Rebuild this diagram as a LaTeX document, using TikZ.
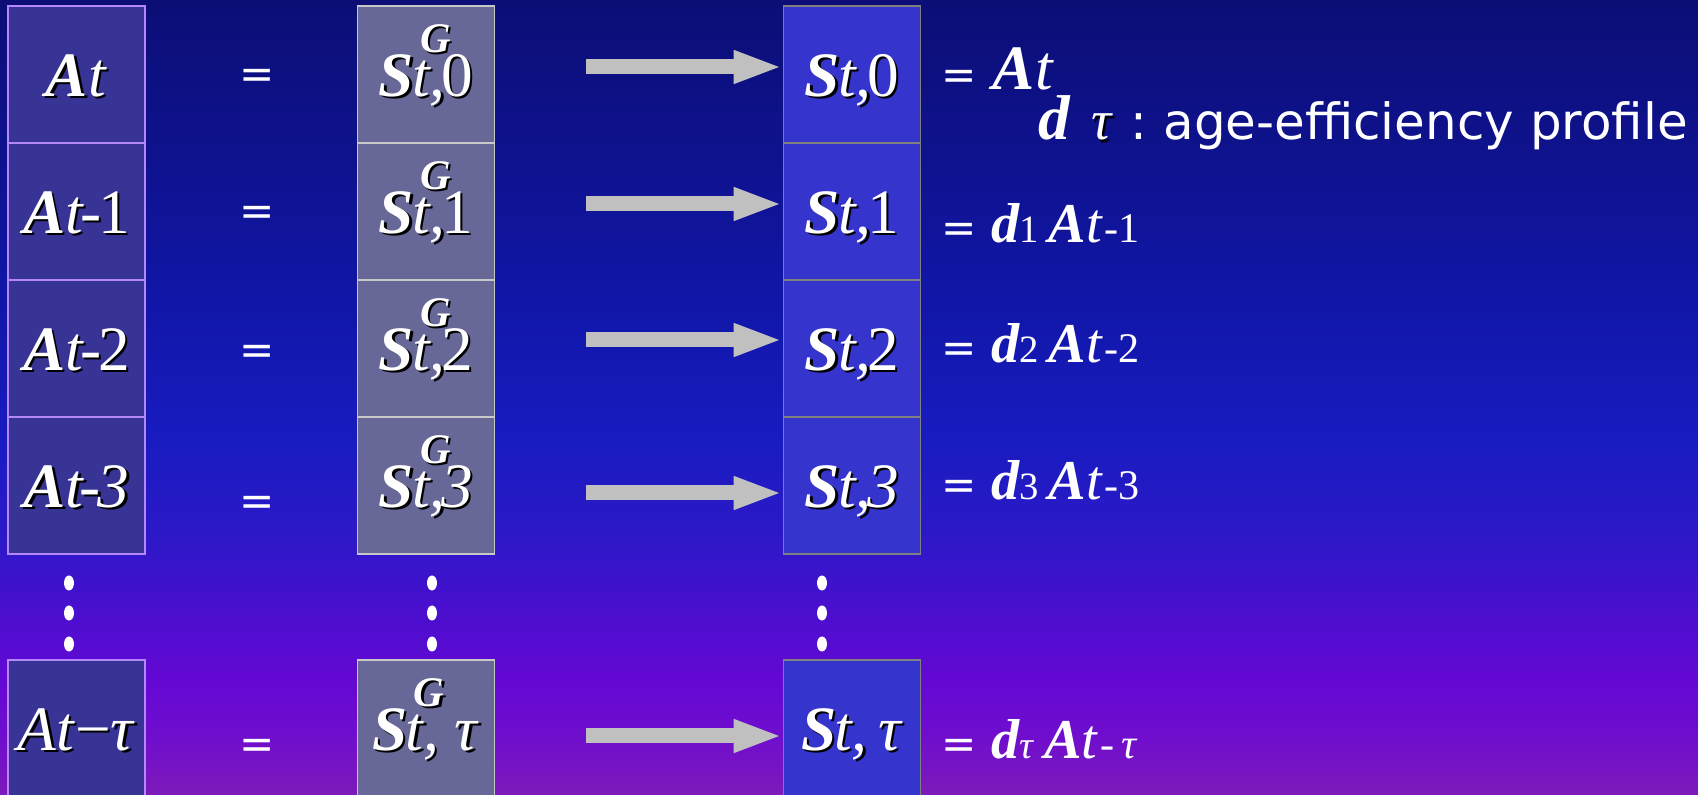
\documentclass[tikz,border=0pt]{standalone}
\usepackage{fontspec}
\setmainfont{Liberation Serif}
\setsansfont{DejaVu Sans}
\usetikzlibrary{arrows.meta,calc}

\definecolor{bga}{RGB}{12,14,118}
\definecolor{bgb}{RGB}{14,18,140}
\definecolor{bgc}{RGB}{17,22,168}
\definecolor{bgd}{RGB}{24,28,192}
\definecolor{bge}{RGB}{46,24,200}
\definecolor{bgf}{RGB}{70,16,206}
\definecolor{bgg}{RGB}{100,8,212}
\definecolor{bgh}{RGB}{112,14,205}
\definecolor{bgi}{RGB}{125,26,185}
\definecolor{afill}{RGB}{55,52,150}
\definecolor{aline}{RGB}{180,135,250}
\definecolor{gfill}{RGB}{104,104,152}
\definecolor{gline}{RGB}{200,200,200}
\definecolor{sfill}{RGB}{53,53,205}
\definecolor{sline}{RGB}{128,128,128}
\definecolor{arrgray}{RGB}{192,192,192}

\pgfdeclareverticalshading{slidebg}{100bp}{color(0bp)=(bgi); color(25bp)=(bgi);
  color(28.5bp)=(bgh); color(32.2bp)=(bgg); color(37.3bp)=(bgf); color(41bp)=(bge);
  color(47.3bp)=(bgd); color(56.1bp)=(bgc); color(65.6bp)=(bgb); color(75bp)=(bga);
  color(100bp)=(bga)}

\newcommand\bi[1]{\textbf{\textit{#1}}}
\newcommand\shd[1]{\leavevmode\rlap{\kern0.7pt\raisebox{-0.7pt}{\color{black}#1}}#1}
\newcommand\sg{\bi{S}\rlap{\smash{\raisebox{0.44cm}{\kern0.06cm\fontsize{12}{12}\selectfont\bi{G}}}}\kern-0.02cm}
\newcommand\sub[1]{{\fontsize{11}{11}\selectfont #1}}
\newcommand\tail[1]{{\fontsize{12}{12}\selectfont\kern0.02cm #1}}
\newcommand\eqs{{\sffamily\fontsize{12}{12}\selectfont =}}
\newcommand\hy{\kern-0.04cm-\kern-0.03cm}
\newcommand\cm{,\kern-0.04cm}

\begin{document}
\begin{tikzpicture}[
    font=\fontsize{18}{20}\selectfont, text=white,
    cell/.style={minimum width=1.37cm, minimum height=1.37cm, inner sep=0pt,
                 text height=0.44cm, text depth=0pt, line width=0.5pt},
    acell/.style={cell, draw=aline, fill=afill},
    gcell/.style={cell, draw=gline, fill=gfill},
    scell/.style={cell, draw=sline, fill=sfill},
    eqsign/.style={anchor=base, inner sep=0pt},
    rhs/.style={anchor=base west, inner sep=0pt, font=\fontsize{16}{18}\selectfont},
    fat/.style={line width=0.15cm, draw=arrgray, -{Triangle[length=0.49cm, width=0.30cm]}},
    vdot/.style={fill=white}]

    \useasboundingbox (0,0) rectangle (16.98,-7.95);
    \shade[shading=slidebg] (0,0) rectangle (16.98,-7.95);

    % left column
    \node[acell] (A0) at (0.765,-0.745) {\shd{\bi{A}\textit{t}}};
    \node[acell] (A1) at (0.765,-2.115) {\shd{\bi{A}\textit{t}\hy 1}};
    \node[acell] (A2) at (0.765,-3.485) {\shd{\bi{A}\textit{t}\hy 2}};
    \node[acell] (A3) at (0.765,-4.855) {\shd{\bi{A}\textit{t\hy 3}}};
    \node[acell] (A4) at (0.765,-7.285) {\shd{\textit{At}−\textit{τ}}};

    % middle column
    \node[gcell] (G0) at (4.26,-0.745) {\shd{\sg\textit{t\cm}0}};
    \node[gcell] (G1) at (4.26,-2.115) {\shd{\sg\textit{t\cm}1}};
    \node[gcell] (G2) at (4.26,-3.485) {\shd{\sg\textit{t\cm}2}};
    \node[gcell] (G3) at (4.26,-4.855) {\shd{\sg\textit{t\cm 3}}};
    \node[gcell] (G4) at (4.26,-7.285) {\shd{\sg\textit{t,}\ \textit{τ}}};

    % right column
    \node[scell] (S0) at (8.52,-0.745) {\shd{\bi{S}\kern-0.02cm\textit{t\cm}0}};
    \node[scell] (S1) at (8.52,-2.115) {\shd{\bi{S}\kern-0.02cm\textit{t\cm}1}};
    \node[scell] (S2) at (8.52,-3.485) {\shd{\bi{S}\kern-0.02cm\textit{t\cm}2}};
    \node[scell] (S3) at (8.52,-4.855) {\shd{\bi{S}\kern-0.02cm\textit{t\cm 3}}};
    \node[scell] (S4) at (8.52,-7.285) {\shd{\bi{S}\kern-0.02cm\textit{t,}\,\textit{τ}}};

    % equal signs
    \node[eqsign] (eq0) at (2.57,-0.89) {\eqs};
    \node[eqsign] (eq1) at (2.57,-2.26) {\eqs};
    \node[eqsign] (eq2) at (2.57,-3.65) {\eqs};
    \node[eqsign] (eq3) at (2.57,-5.16) {\eqs};
    \node[eqsign] (eq4) at (2.57,-7.58) {\eqs};

    % right hand sides
    \node[rhs, font=\fontsize{18}{20}\selectfont] (lbl0) at (9.41,-0.90) {\eqs\ \bi{A}\textit{t}};
    \node[rhs, font=\fontsize{18}{20}\selectfont] (lbld) at (10.38,-1.40)
        {\bi{d}\hspace{0.2cm}{\fontsize{16}{16}\selectfont\shd{\textit{τ}}}\hspace{0.18cm}{\sffamily\fontsize{14.2}{15}\selectfont :\ age-efficiency profile}};
    \node[rhs] (lbl1) at (9.41,-2.43) {\eqs\ \bi{d}\sub{1}\,\bi{A}\textit{t}\tail{-1}};
    \node[rhs] (lbl2) at (9.41,-3.63) {\eqs\ \bi{d}\sub{2}\,\bi{A}\textit{t}\tail{-2}};
    \node[rhs] (lbl3) at (9.41,-5.00) {\eqs\ \bi{d}\sub{3}\,\bi{A}\textit{t}\tail{-3}};
    \node[rhs] (lbl4) at (9.41,-7.58) {\eqs\ \bi{d}\sub{\textit{τ}}\,\bi{A}\textit{t}\tail{-\,\textit{τ}}};

    % arrows
    \coordinate (a0) at (5.86,-0.67);
    \coordinate (a1) at (5.86,-2.04);
    \coordinate (a2) at (5.86,-3.40);
    \coordinate (a3) at (5.86,-4.93);
    \coordinate (a4) at (5.86,-7.36);
    \draw[fat] (a0) -- (a0 -| S0.west);
    \draw[fat] (a1) -- (a1 -| S1.west);
    \draw[fat] (a2) -- (a2 -| S2.west);
    \draw[fat] (a3) -- (a3 -| S3.west);
    \draw[fat] (a4) -- (a4 -| S4.west);

    % vertical dots
    \fill[vdot] (0.69,-5.83) ellipse [x radius=0.05cm, y radius=0.075cm]
                (0.69,-6.13) ellipse [x radius=0.05cm, y radius=0.075cm]
                (0.69,-6.44) ellipse [x radius=0.05cm, y radius=0.075cm];
    \fill[vdot] (4.32,-5.83) ellipse [x radius=0.05cm, y radius=0.075cm]
                (4.32,-6.13) ellipse [x radius=0.05cm, y radius=0.075cm]
                (4.32,-6.44) ellipse [x radius=0.05cm, y radius=0.075cm];
    \fill[vdot] (8.22,-5.83) ellipse [x radius=0.05cm, y radius=0.075cm]
                (8.22,-6.13) ellipse [x radius=0.05cm, y radius=0.075cm]
                (8.22,-6.44) ellipse [x radius=0.05cm, y radius=0.075cm];
\end{tikzpicture}
\end{document}
